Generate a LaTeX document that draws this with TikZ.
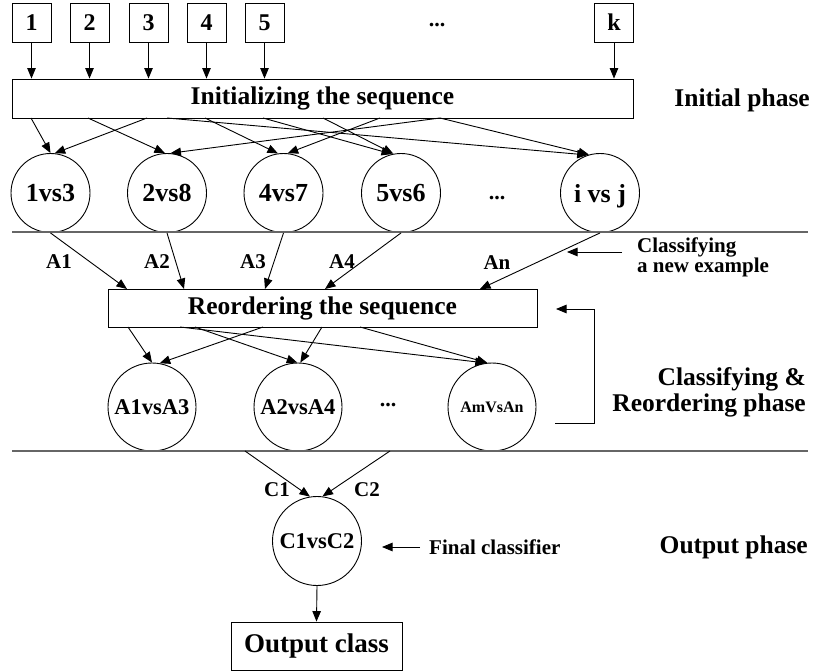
\documentclass[tikz,border=0pt]{standalone}
\usepackage{fontspec}
\setmainfont{Liberation Serif}
\usetikzlibrary{arrows.meta,calc}
\begin{document}
\begin{tikzpicture}[x=1pt,y=-1pt,
  conn/.style={line width=0.9pt,-{Triangle[length=10.5pt,width=8.5pt]}},
  sep/.style={line width=1.4pt,draw=black!60},
  inbox/.style={draw,line width=0.9pt,minimum width=39pt,minimum height=39pt,inner sep=0pt,
    font=\fontsize{24}{26}\selectfont\bfseries},
  bar/.style={draw,line width=0.9pt,inner sep=0pt,font=\fontsize{25.5}{27}\selectfont\bfseries},
  cone/.style={draw,circle,line width=0.9pt,minimum size=79pt,inner sep=0pt,text depth=0pt,
    font=\fontsize{26}{28}\selectfont\bfseries},
  ctwo/.style={draw,circle,line width=0.9pt,minimum size=88pt,inner sep=0pt,
    font=\fontsize{22.5}{24}\selectfont\bfseries},
  lbl/.style={inner sep=0pt,font=\fontsize{21}{23}\selectfont\bfseries},
  phase/.style={inner sep=0pt,font=\fontsize{25.5}{26}\selectfont\bfseries},
  note/.style={inner sep=0pt,font=\fontsize{21}{19}\selectfont\bfseries},
  dots/.style={inner sep=0pt,font=\fontsize{22}{24}\selectfont\bfseries}
]
\useasboundingbox (0,0) rectangle (815,672);

% input classes
\node[inbox] (b1) at (31.5,22.5) {1};
\node[inbox] (b2) at (89.5,22.5) {2};
\node[inbox] (b3) at (148.5,22.5) {3};
\node[inbox] (b4) at (206.5,22.5) {4};
\node[inbox] (b5) at (264.5,22.5) {5};
\node[inbox] (bk) at (614,22.5) {k};
\node[dots] (bd) at (437,25) {...};

% initializing bar
\node[bar,minimum width=621pt,minimum height=39pt] (init) at (322.5,98.5) {Initializing the sequence};
\node[phase,anchor=east] (ph1) at (810,100) {Initial phase};

\foreach \b in {b1,b2,b3,b4,b5,bk}
  \draw[conn] (\b.south) -- (\b |- init.north);

% first row of pairwise classifiers
\node[cone] (c1) at (50.5,193) {1vs3};
\node[cone] (c2) at (167,193) {2vs8};
\node[cone] (c3) at (283.5,193) {4vs7};
\node[cone] (c4) at (401,193) {5vs6};
\node[cone] (c5) at (600,193) {i vs j};
\node[dots] (cd) at (497,198) {...};

% starting points on the bottom of the initializing bar
\coordinate (o1) at (31,118);
\coordinate (o2) at (88,118);
\coordinate (o3) at (147,118);
\coordinate (o4) at (167,118);
\coordinate (o5) at (205,118);
\coordinate (o6) at (263,118);
\coordinate (o7) at (323,118);
\coordinate (o8) at (380,118);
\coordinate (o9) at (440,118);

\draw[conn] (o1) -- (c1.90);
\draw[conn] (o3) -- (c1.84);
\draw[conn] (o2) -- (c2.93);
\draw[conn] (o9) -- (c2.85);
\draw[conn] (o5) -- (c3.98);
\draw[conn] (o8) -- (c3.84);
\draw[conn] (o6) -- (c4.103);
\draw[conn] (o7) -- (c4.101);
\draw[conn] (o4) -- (c5.108);
\draw[conn] (o9) -- (c5.106);

% phase separators
\coordinate (s1l) at (12,232);
\coordinate (s1r) at (808,232);
\draw[sep] (s1l) -- (s1r);

% reordering bar
\node[bar,minimum width=429pt,minimum height=38pt] (reo) at (322.5,308) {Reordering the sequence};

\coordinate (r1) at (127,289);
\coordinate (r2) at (184,289);
\coordinate (r3) at (265,289);
\coordinate (r4) at (325,289);
\coordinate (r5) at (480,289);
\draw[conn] (c1.south) -- (r1);
\draw[conn] (c2.south) -- (r2);
\draw[conn] (c3.south) -- (r3);
\draw[conn] (c4.south) -- (r4);
\draw[conn] (c5.south) -- (r5);

\node[lbl] (la1) at (59,262) {A1};
\node[lbl] (la2) at (157,262) {A2};
\node[lbl] (la3) at (253,262) {A3};
\node[lbl] (la4) at (342,262) {A4};
\node[lbl] (lan) at (497,263) {An};

% new example note
\node[note,anchor=west,align=left] (nt) at (637,257) {Classifying\\a new example};
\coordinate (na) at (622,252);
\coordinate (nb) at (567,252);
\draw[conn] (na) -- (nb);

% second row of classifiers
\node[ctwo] (d1) at (152,407) {A1vsA3};
\node[ctwo] (d2) at (298,407) {A2vsA4};
\node[ctwo,font=\fontsize{16}{18}\selectfont\bfseries] (d3) at (492,407) {AmVsAn};
\node[dots] (dd) at (388,405) {...};

\coordinate (q1) at (128,327);
\coordinate (q2) at (180,327);
\coordinate (q3) at (195,327);
\coordinate (q4) at (263,327);
\coordinate (q5) at (322,327);
\coordinate (q6) at (360,327);
\draw[conn] (q1) -- (d1.90);
\draw[conn] (q4) -- (d1.80);
\draw[conn] (q3) -- (d2.91);
\draw[conn] (q5) -- (d2.87);
\draw[conn] (q2) -- (d3.98);
\draw[conn] (q6) -- (d3.96);

% feedback loop
\coordinate (la) at (555,423);
\coordinate (lb) at (594,309);
\coordinate (lc) at (556,309);
\draw[conn] (la) -| (lb) -- (lc);

\node[phase,anchor=east,align=right] (ph2) at (806,392) {Classifying \&\\Reordering phase};

\coordinate (s2l) at (12,451);
\coordinate (s2r) at (808,451);
\draw[sep] (s2l) -- (s2r);

% output phase
\node[ctwo,minimum size=89pt] (cc) at (317,541) {C1vsC2};
\coordinate (t1) at (245,451);
\coordinate (t2) at (390,451);
\draw[conn] (t1) -- (cc.99);
\draw[conn] (t2) -- (cc.83);
\node[lbl] (lc1) at (277,490) {C1};
\node[lbl] (lc2) at (367,490) {C2};

\node[note,anchor=west] (fc) at (429,547) {Final classifier};
\coordinate (fa) at (420,547);
\coordinate (fb) at (382,547);
\draw[conn] (fa) -- (fb);

\node[phase,anchor=east] (ph3) at (808,547) {Output phase};

\node[bar,minimum width=171pt,minimum height=48pt,font=\fontsize{27}{28}\selectfont\bfseries] (out) at (316.5,646) {Output class};
\draw[conn] (cc.south) -- (out.north);
\end{tikzpicture}
\end{document}
